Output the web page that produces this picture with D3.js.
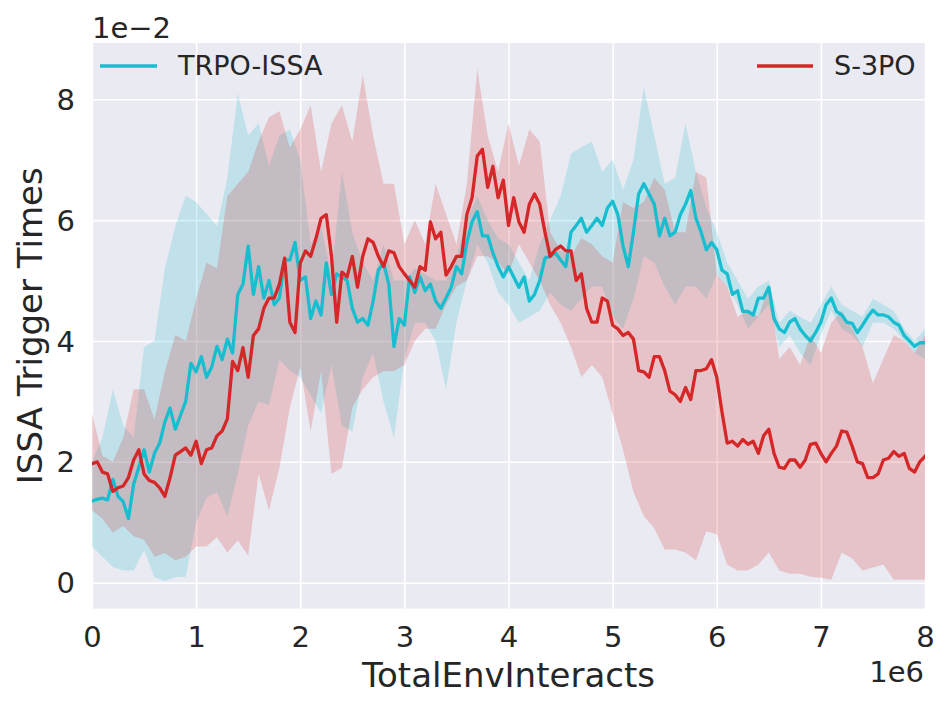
<!DOCTYPE html>
<html><head><meta charset="utf-8">
<script src="https://cdn.jsdelivr.net/npm/d3@7"></script>
<style>
body{margin:0;background:#fff}
text{font-family:"DejaVu Sans",sans-serif;fill:#262626}
</style>
</head><body>
<svg id="c" width="951" height="709"></svg>
<script>
// ---------------- data (x in 1e6 interacts, y in 1e-2) ----------------
const xTicks = [0,1,2,3,4,5,6,7,8];
const yTicks = [0,2,4,6,8];
const seriesNames = ["TRPO-ISSA","S-3PO"];
const seriesColors = ["#17becf","#d62728"];
// mean lines sampled every 0.05e6 from 0 to 8e6
const lineStep = 0.05;
const trpoMean = [
1.35,1.38,1.40,1.37,1.71,1.43,1.34,1.06,1.63,1.91,2.20,1.83,2.14,2.31,2.66,2.89,2.54,2.77,3.00,3.63,
3.49,3.74,3.40,3.57,3.91,3.69,4.03,3.80,4.77,4.94,5.57,4.77,5.23,4.71,5.00,4.60,4.71,5.34,5.34,5.63,
5.00,5.06,4.37,4.66,4.43,5.29,4.77,5.11,5.06,5.00,4.54,4.31,4.37,4.26,4.66,5.17,5.29,4.94,3.91,4.37,
4.26,5.06,4.80,5.06,4.83,4.94,4.66,4.54,4.71,4.89,5.23,5.11,5.63,5.97,6.14,5.74,5.74,5.46,5.23,5.06,
5.23,5.06,4.89,5.06,4.66,4.77,5.00,5.37,5.40,5.46,5.34,5.23,5.80,5.91,6.03,5.80,5.91,6.03,5.91,6.20,
6.31,6.09,5.57,5.23,5.80,6.43,6.60,6.43,6.26,5.74,6.03,5.74,5.80,6.09,6.26,6.49,6.03,5.80,5.51,5.63,
5.51,5.17,5.11,4.77,4.83,4.49,4.49,4.43,4.71,4.71,4.89,4.37,4.20,4.14,4.31,4.37,4.20,4.09,4.00,4.14,
4.31,4.60,4.71,4.49,4.43,4.31,4.29,4.14,4.26,4.40,4.51,4.43,4.43,4.40,4.31,4.26,4.09,4.00,3.91,3.97,
3.97];
const s3poMean = [
1.97,2.00,1.83,1.80,1.51,1.57,1.60,1.74,2.03,2.20,1.80,1.69,1.66,1.57,1.43,1.74,2.11,2.17,2.23,2.11,
2.34,1.97,2.20,2.23,2.43,2.51,2.71,3.66,3.51,3.89,3.40,4.09,4.20,4.54,4.71,4.71,4.94,5.37,4.31,4.14,
5.29,5.49,5.40,5.69,6.03,6.09,5.40,4.31,5.14,5.06,5.40,4.89,5.40,5.69,5.63,5.40,5.23,5.49,5.46,5.23,
5.11,5.00,4.89,5.23,5.17,5.97,5.69,5.80,5.09,5.23,5.40,5.40,6.09,6.37,7.06,7.17,6.54,6.89,6.37,6.66,
5.91,6.37,5.97,5.80,6.26,6.43,6.26,5.80,5.40,5.51,5.57,5.49,5.49,5.00,5.11,4.54,4.31,4.31,4.71,4.66,
4.26,4.20,4.09,4.14,4.03,3.51,3.49,3.40,3.74,3.74,3.51,3.17,3.11,3.00,3.23,3.03,3.51,3.51,3.54,3.69,
3.40,2.83,2.31,2.34,2.26,2.37,2.29,2.34,2.14,2.43,2.54,2.14,1.91,1.89,2.03,2.03,1.91,2.03,2.29,2.31,
2.14,2.00,2.14,2.26,2.51,2.49,2.26,2.00,1.97,1.74,1.74,1.80,2.03,2.06,2.17,2.09,2.14,1.89,1.83,2.00,
2.09];
// confidence bands sampled every 0.1e6
const bandStep = 0.1;
const trpoUpper = [
2.0,2.4,3.2,2.6,2.4,3.9,4.0,5.2,5.9,6.4,6.3,6.1,5.9,6.7,8.1,7.4,7.6,6.9,7.4,7.5,
7.0,5.6,5.9,5.1,6.8,5.8,5.3,5.0,5.6,5.0,5.0,5.2,5.1,5.0,5.0,5.4,6.0,6.4,6.0,5.7,
5.6,5.3,5.0,5.6,6.0,6.4,7.1,7.2,7.3,6.8,7.0,6.5,7.0,8.2,7.4,6.6,6.7,7.6,6.8,6.2,
5.8,5.3,5.0,4.7,4.9,5.0,4.3,4.5,4.4,4.3,4.6,4.9,4.6,4.5,4.4,4.7,4.6,4.5,4.2,4.0,
4.2];
const trpoLower = [
0.6,0.43,0.26,0.2,0.2,0.54,0.09,0.03,0.09,0.1,1.0,1.4,1.5,1.1,1.8,2.6,3.0,2.94,3.69,3.51,
3.4,3.1,2.8,3.6,2.6,2.5,3.4,3.8,3.0,2.4,3.7,4.3,4.3,4.0,3.2,4.3,5.0,5.6,5.3,4.8,
4.6,4.3,4.4,4.5,4.8,4.6,4.5,4.7,4.9,4.9,4.4,4.2,4.7,5.4,5.3,4.9,4.6,4.9,4.9,4.7,
5.1,4.9,4.6,4.2,4.4,4.6,3.9,4.1,3.8,3.6,4.1,4.5,4.2,4.1,3.9,4.3,4.3,4.2,4.0,3.8,
3.7];
const s3poUpper = [
2.8,2.1,2.0,2.4,3.2,3.2,2.7,3.5,4.1,4.0,4.7,5.3,5.2,6.4,6.6,6.8,7.3,7.7,7.8,7.2,
7.5,7.9,6.8,7.6,7.9,7.3,8.4,7.4,6.6,6.6,5.6,6.0,5.6,6.6,6.1,5.6,6.6,8.5,7.4,6.8,
7.6,6.9,7.5,7.3,5.8,5.5,5.4,5.7,5.6,5.4,5.3,6.3,6.2,6.3,6.7,6.5,5.8,5.8,6.8,6.7,
5.1,4.9,4.4,4.5,4.4,4.9,3.7,3.9,3.6,4.1,3.8,4.3,4.5,4.2,3.9,3.3,3.7,4.1,4.0,3.8,
4.1];
const s3poLower = [
1.2,1.06,0.83,0.94,0.77,0.71,0.43,0.49,0.37,0.43,0.6,0.6,0.75,0.5,0.7,0.45,1.8,1.2,1.9,2.9,
3.57,2.5,3.5,1.8,1.9,2.9,3.2,3.4,3.5,3.5,3.6,4.0,4.2,4.2,4.6,4.9,5.0,5.4,5.4,5.3,
5.1,5.6,5.3,5.0,4.6,4.3,3.9,3.4,3.6,3.4,2.8,2.2,1.5,1.1,0.9,0.55,0.55,0.5,0.37,0.85,
0.8,0.3,0.2,0.2,0.3,0.5,0.2,0.15,0.15,0.1,0.08,0.05,0.5,0.4,0.2,0.25,0.3,0.05,0.05,0.05,
0.05];

// ---------------- drawing ----------------
const svg = d3.select("#c");
const L = 92, R = 925, T = 43, B = 608.5;
const x = d3.scaleLinear().domain([0, 8]).range([L, R]);
const y = d3.scaleLinear().domain([-0.427, 8.93]).range([B, T]);

svg.append("rect").attr("x", L).attr("y", T).attr("width", R - L).attr("height", B - T).attr("fill", "#eaeaf2");
svg.append("clipPath").attr("id", "clip").append("rect")
  .attr("x", L).attr("y", T).attr("width", R - L).attr("height", B - T);

// axes with gridlines
const gx = svg.append("g").attr("transform", `translate(0,${B})`)
  .call(d3.axisBottom(x).tickValues(xTicks).tickFormat(d3.format("d")).tickSize(-(B - T)).tickPadding(18));
const gy = svg.append("g").attr("transform", `translate(${L},0)`)
  .call(d3.axisLeft(y).tickValues(yTicks).tickFormat(d3.format("d")).tickSize(-(R - L)).tickPadding(17));
[gx, gy].forEach(g => {
  g.select(".domain").remove();
  g.selectAll(".tick line").attr("stroke", "#ffffff").attr("stroke-width", 1.6);
  g.selectAll(".tick text").attr("font-size", 29).attr("fill", "#262626")
    .attr("font-family", "DejaVu Sans, sans-serif");
});
gy.selectAll(".tick text").attr("dy", "0.35em");

const plot = svg.append("g").attr("clip-path", "url(#clip)");
const bandLayer = plot.append("g");
const lineLayer = plot.append("g");

function drawSeries(mean, lower, upper, color) {
  const pts = mean.map((v, i) => [i * lineStep, v]);
  const band = lower.map((v, i) => [i * bandStep, v, upper[i]]);
  bandLayer.append("path").datum(band)
    .attr("fill", color).attr("fill-opacity", 0.2).attr("stroke", "none")
    .attr("d", d3.area().x(d => x(d[0])).y0(d => y(d[1])).y1(d => y(d[2])));
  lineLayer.append("path").datum(pts)
    .attr("fill", "none").attr("stroke", color).attr("stroke-width", 3.3)
    .attr("stroke-linejoin", "round").attr("stroke-linecap", "square")
    .attr("d", d3.line().x(d => x(d[0])).y(d => y(d[1])));
}
drawSeries(trpoMean, trpoLower, trpoUpper, seriesColors[0]);
drawSeries(s3poMean, s3poLower, s3poUpper, seriesColors[1]);

// offset texts
svg.append("text").attr("x", L).attr("y", 38).attr("font-size", 29).text("1e\u22122");
svg.append("text").attr("x", 924).attr("y", 682).attr("font-size", 29).attr("text-anchor", "end").text("1e6");

// axis labels
svg.append("text").attr("x", (L + R) / 2).attr("y", 687).attr("font-size", 34)
  .attr("text-anchor", "middle").text("TotalEnvInteracts");
svg.append("text").attr("transform", `translate(42,${(T + B) / 2}) rotate(-90)`)
  .attr("font-size", 34).attr("text-anchor", "middle").text("ISSA Trigger Times");

// legends
const legends = [{x1: 100, x2: 157, tx: 178}, {x1: 757, x2: 813, tx: 834}];
legends.forEach((lg, i) => {
  svg.append("line").attr("x1", lg.x1).attr("x2", lg.x2).attr("y1", 66).attr("y2", 66)
    .attr("stroke", seriesColors[i]).attr("stroke-width", 3.3);
  svg.append("text").attr("x", lg.tx).attr("y", 75).attr("font-size", 27).text(seriesNames[i]);
});
</script>
</body></html>
